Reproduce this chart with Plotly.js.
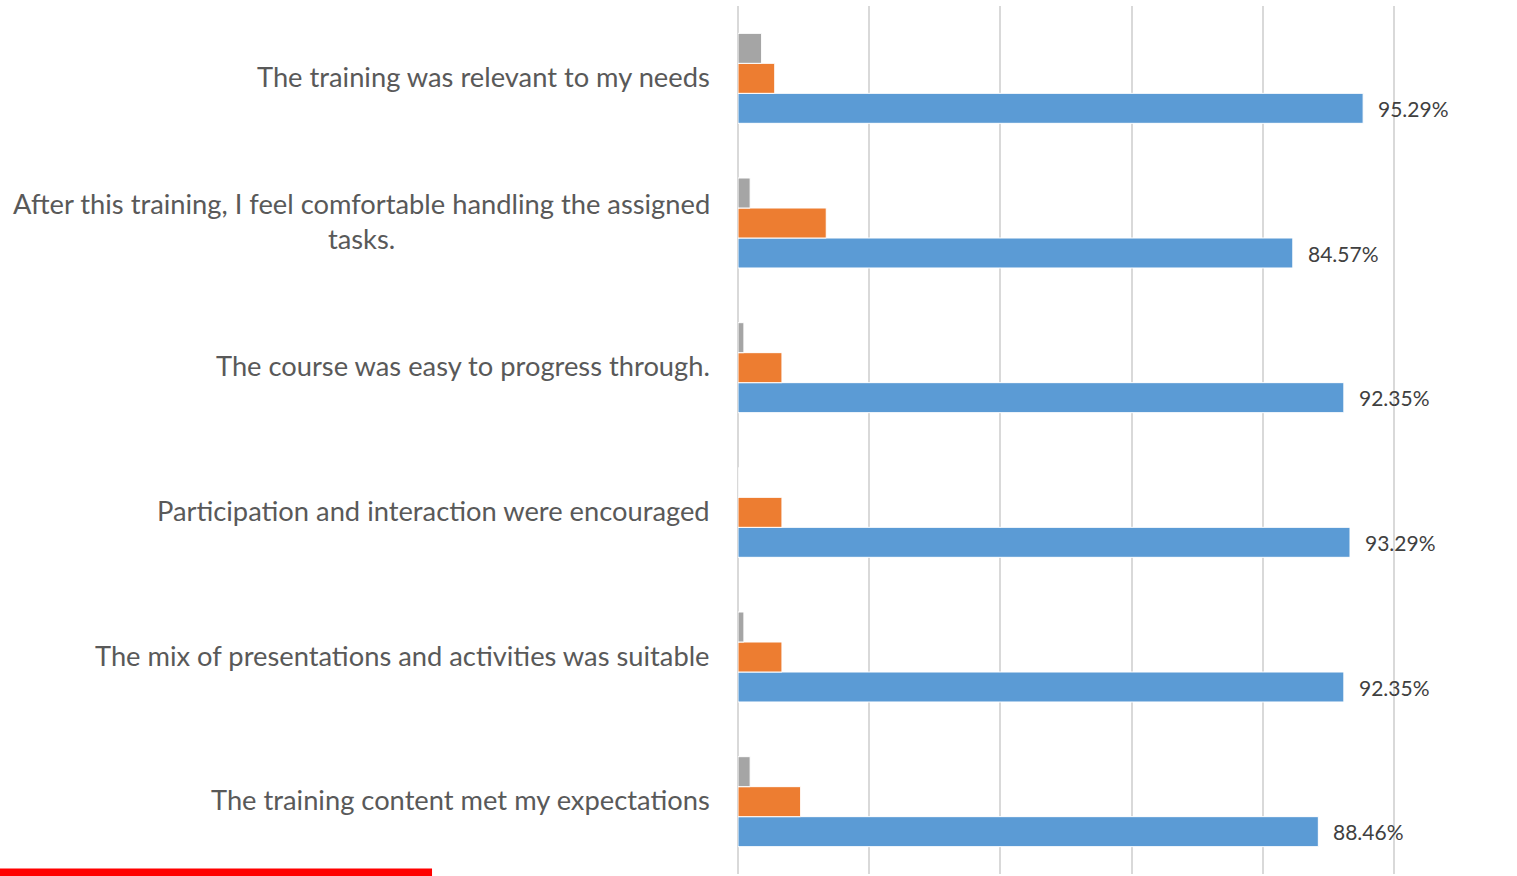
<!DOCTYPE html>
<html>
<head>
<meta charset="utf-8">
<script src="https://cdn.plot.ly/plotly-3.0.1.min.js"></script>
<style>html,body{margin:0;padding:0;background:#fff;}#chart{width:1517px;height:876px;}</style>
</head>
<body>
<div id="chart"></div>
<script>
// Categories listed top to bottom as they appear in the chart
const categories = [
  "The training was relevant to my needs",
  "After this training, I feel comfortable handling the assigned<br>tasks.",
  "The course was easy to progress through.",
  "Participation and interaction were encouraged",
  "The mix of presentations and activities was suitable",
  "The training content met my expectations"
];
const blueValues = [95.29, 84.57, 92.35, 93.29, 92.35, 88.46];
const orangeValues = [5.6, 13.45, 6.7, 6.7, 6.7, 9.55];
const grayValues = [3.6, 1.85, 0.9, 0, 0.9, 1.85];
const blueLabels = ["95.29%", "84.57%", "92.35%", "93.29%", "92.35%", "88.46%"];

const border = {color: '#ffffff', width: 1};
const traces = [
  {type: 'bar', orientation: 'h', y: categories, x: blueValues, name: 'Blue',
   marker: {color: '#5B9BD5', line: border}, hoverinfo: 'x'},
  {type: 'bar', orientation: 'h', y: categories, x: orangeValues, name: 'Orange',
   marker: {color: '#ED7D31', line: border}, hoverinfo: 'x'},
  {type: 'bar', orientation: 'h', y: categories, x: grayValues, name: 'Gray',
   marker: {color: '#A5A5A5', line: border}, hoverinfo: 'x'}
];

const annotations = [];
categories.forEach((c, i) => {
  annotations.push({
    xref: 'paper', yref: 'y', x: -0.0395, y: c, xanchor: 'right', yanchor: 'middle',
    text: c, showarrow: false, align: 'center', yshift: 2,
    font: {family: 'Lato, "Open Sans", sans-serif', size: 27.3, color: '#595959'}
  });
  annotations.push({
    xref: 'x', yref: 'y', x: blueValues[i], y: c, xanchor: 'left', yanchor: 'middle',
    xshift: 13, yshift: -30, text: blueLabels[i], showarrow: false,
    font: {family: 'Lato, "Open Sans", sans-serif', size: 21, color: '#404040'}
  });
});

const layout = {
  width: 1517, height: 876,
  margin: {l: 738, r: 121, t: 5.6, b: 1.6, pad: 0},
  paper_bgcolor: '#ffffff', plot_bgcolor: '#ffffff',
  barmode: 'group', bargap: 0.378, bargroupgap: 0,
  showlegend: false,
  xaxis: {range: [0, 100.3], dtick: 20, tick0: 0, showgrid: true, gridcolor: '#D9D9D9', gridwidth: 2,
          zeroline: true, zerolinecolor: '#D9D9D9', zerolinewidth: 2,
          showticklabels: false, ticks: '', showline: false, fixedrange: true},
  yaxis: {type: 'category', categoryorder: 'array', categoryarray: categories.slice().reverse(),
          showticklabels: false, ticks: '', showgrid: false, zeroline: false, showline: false, fixedrange: true},
  annotations: annotations,
  shapes: [{type: 'rect', xref: 'paper', yref: 'paper', x0: -1.13, x1: -0.465, y0: -0.01, y1: 0.0062,
            fillcolor: '#FF0000', line: {width: 0}, layer: 'above'}]
};

Plotly.newPlot('chart', traces, layout, {displayModeBar: false, staticPlot: true});
</script>
</body>
</html>
